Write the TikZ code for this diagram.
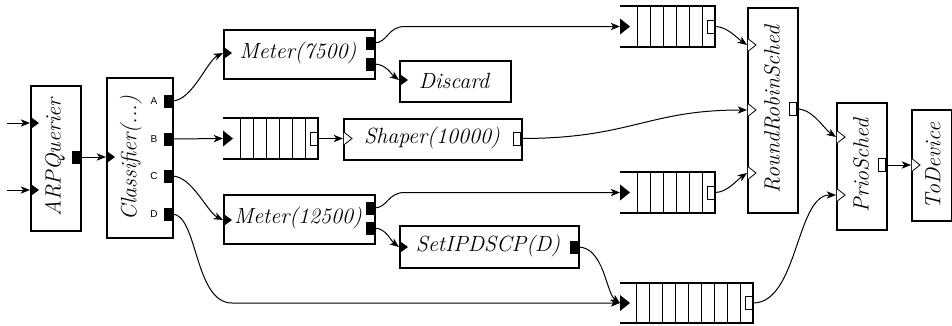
\documentclass[tikz,border=0pt]{standalone}
\usepackage{fontspec}
\newfontfamily\portfont{Liberation Sans}
\usetikzlibrary{arrows.meta}
\newcommand{\elembox}[5]{\node[box, minimum width={(#4-#2)*0.75pt}, minimum height={(#5-#3)*0.75pt}] (#1) at (#2,#3) {};}
\newcommand{\PortIn}[2]{\fill (#1,#2-6.5) -- (#1+9,#2) -- (#1,#2+6.5) -- cycle;}
\newcommand{\PortInQ}[2]{\fill (#1,#2-8) -- (#1+10,#2) -- (#1,#2+8) -- cycle;}
\newcommand{\PortInW}[2]{\draw[line width=0.6pt, fill=white] (#1+0.8,#2-6.5) -- (#1+9,#2) -- (#1+0.8,#2+6.5);}
\newcommand{\PortOut}[2]{\fill (#1-8,#2-6.5) rectangle (#1,#2+6.5);}
\newcommand{\PortOutW}[2]{\draw[line width=0.6pt, fill=white] (#1-7.5,#2-6.5) rectangle (#1-0.8,#2+6.5);}
\newcommand{\QueueBox}[6]{%
  \node[inner sep=0pt, minimum width={(#4-#2)*0.75pt}, minimum height={(#5-#3)*0.75pt}, anchor=north west] (#1) at (#2,#3) {};
  \foreach \k in {1,...,#6} {\draw[line width=0.6pt] (#4-12.5-13*\k+13,#3) -- (#4-12.5-13*\k+13,#5);}
  \draw[line width=1.4pt] (#2,#3) -- (#4,#3) -- (#4,#5) -- (#2,#5);
}
\begin{document}
\begin{tikzpicture}[x=0.75pt,y=-0.75pt,
  box/.style={draw, line width=1.4pt, inner sep=0pt, anchor=north west},
  lbl/.style={font=\fontsize{16.5}{18}\selectfont\itshape, inner sep=0pt},
  vlbl/.style={lbl, rotate=90},
  plbl/.style={font=\fontsize{7.5}{8}\selectfont\portfont, inner sep=0pt},
  conn/.style={line width=0.75pt, -{Stealth[length=7pt,width=5.5pt,inset=2pt]}}]
\useasboundingbox (0,0) rectangle (952,325);

% ---- elements ----
\elembox{arp}{30}{85}{80}{230}
\node[vlbl] (arpt) at (55,157.5) {ARPQuerier};
\PortIn{30}{123} \PortIn{30}{190} \PortOut{80}{157}

\elembox{cls}{106}{77}{172}{237}
\node[vlbl] (clst) at (131,158) {Classifier(...)};
\PortIn{106}{157}
\PortOut{172}{101} \PortOut{172}{139} \PortOut{172}{176} \PortOut{172}{214}
\node[plbl] (la) at (154,101) {A};
\node[plbl] (lb) at (154,139) {B};
\node[plbl] (lc) at (154,176) {C};
\node[plbl] (ld) at (154,214) {D};

\elembox{m1}{223}{29}{374}{78}
\node[lbl] (m1t) at (298,53.5) {Meter(7500)};
\PortIn{223}{53} \PortOut{374}{43} \PortOut{374}{64}

\elembox{dis}{399}{60}{510}{101}
\node[lbl] (dist) at (454,80.5) {Discard};
\PortIn{399}{80}

\QueueBox{q2}{223}{118}{318}{159}{6}
\PortInQ{223}{138.5} \PortOutW{318}{138.5}

\elembox{sh}{343}{118}{521}{159}
\node[lbl] (sht) at (432,138.5) {Shaper(10000)};
\PortInW{343}{138.5} \PortOutW{521}{138.5}

\elembox{m2}{223}{194}{374}{243}
\node[lbl] (m2t) at (298,218.5) {Meter(12500)};
\PortIn{223}{220} \PortOut{374}{208} \PortOut{374}{228}

\elembox{set}{399}{225}{578}{267}
\node[lbl] (sett) at (488,246) {SetIPDSCP(D)};
\PortIn{399}{247} \PortOut{578}{247}

\QueueBox{q1}{620}{6}{715}{47}{6}
\PortInQ{620}{26.5} \PortOutW{715}{26.5}
\QueueBox{q3}{620}{172}{715}{213}{6}
\PortInQ{620}{192.5} \PortOutW{715}{192.5}
\QueueBox{q4}{620}{283}{753}{323}{9}
\PortInQ{620}{303} \PortOutW{753}{303}

\elembox{rr}{747}{7}{797}{212}
\node[vlbl] (rrt) at (772,109.5) {RoundRobinSched};
\PortInW{747}{45} \PortInW{747}{110} \PortInW{747}{173} \PortOutW{797}{109}

\elembox{pr}{836}{102}{886}{229}
\node[vlbl] (prt) at (861,165.5) {PrioSched};
\PortInW{836}{137} \PortInW{836}{195} \PortOutW{886}{165}

\elembox{td}{911}{109}{951}{220}
\node[vlbl] (tdt) at (933,166) {ToDevice};
\PortInW{911}{165}

% ---- port coordinates ----
\coordinate (src1) at (7,123);
\coordinate (src2) at (7,190);
\coordinate (arp-i1) at (30,123);
\coordinate (arp-i2) at (30,190);
\coordinate (arp-o) at (80,157);
\coordinate (cls-i) at (106,157);
\coordinate (cls-a) at (172,101);
\coordinate (cls-b) at (172,139);
\coordinate (cls-c) at (172,176);
\coordinate (cls-d) at (172,214);
\coordinate (m1-i) at (223,53);
\coordinate (m1-o1) at (374,43);
\coordinate (m1-o2) at (374,64);
\coordinate (dis-i) at (399,80);
\coordinate (q2-i) at (223,138.5);
\coordinate (q2-o) at (318,138.5);
\coordinate (sh-i) at (343,138.5);
\coordinate (sh-o) at (521,138.5);
\coordinate (m2-i) at (223,220);
\coordinate (m2-o1) at (374,208);
\coordinate (m2-o2) at (374,228);
\coordinate (set-i) at (399,247);
\coordinate (set-o) at (578,247);
\coordinate (q1-i) at (620,26.5);
\coordinate (q1-o) at (715,26.5);
\coordinate (q3-i) at (620,192.5);
\coordinate (q3-o) at (715,192.5);
\coordinate (q4-i) at (620,303);
\coordinate (q4-o) at (753,303);
\coordinate (rr-i1) at (747,45);
\coordinate (rr-i2) at (747,110);
\coordinate (rr-i3) at (747,173);
\coordinate (rr-o) at (797,109);
\coordinate (pr-i1) at (836,137);
\coordinate (pr-i2) at (836,195);
\coordinate (pr-o) at (886,165);
\coordinate (td-i) at (911,165);
\coordinate (k1) at (405,26.5);
\coordinate (k3) at (405,192.5);
\coordinate (k4) at (232,303);

% ---- connectors ----
\draw[conn] (src1) -- (arp-i1);
\draw[conn] (src2) -- (arp-i2);
\draw[conn] (arp-o) -- (cls-i);
\draw[conn] (cls-a) .. controls +(20,0) and +(-16,8) .. (m1-i);
\draw[conn] (cls-b) -- (q2-i);
\draw[conn] (cls-c) .. controls +(20,0) and +(-16,-8) .. (m2-i);
\draw[conn] (cls-d) .. controls +(26,0) and +(-38,0) .. (k4) -- (q4-i);
\draw[conn] (m1-o1) .. controls +(14,0) and +(-18,0) .. (k1) -- (q1-i);
\draw[conn] (m1-o2) .. controls +(12,0) and +(-8,-6) .. (dis-i);
\draw[conn] (q2-o) -- (sh-i);
\draw[conn] (sh-o) .. controls +(110,0) and +(-100,0) .. (rr-i2);
\draw[conn] (m2-o1) .. controls +(14,0) and +(-18,0) .. (k3) -- (q3-i);
\draw[conn] (m2-o2) .. controls +(12,0) and +(-8,-6) .. (set-i);
\draw[conn] (set-o) .. controls +(26,0) and +(-14,-10) .. (q4-i);
\draw[conn] (q1-o) .. controls +(12,0) and +(-10,-7) .. (rr-i1);
\draw[conn] (q3-o) .. controls +(12,0) and +(-10,7) .. (rr-i3);
\draw[conn] (rr-o) .. controls +(16,0) and +(-12,-8) .. (pr-i1);
\draw[conn] (q4-o) .. controls +(45,0) and +(-40,0) .. (pr-i2);
\draw[conn] (pr-o) -- (td-i);
\end{tikzpicture}
\end{document}
